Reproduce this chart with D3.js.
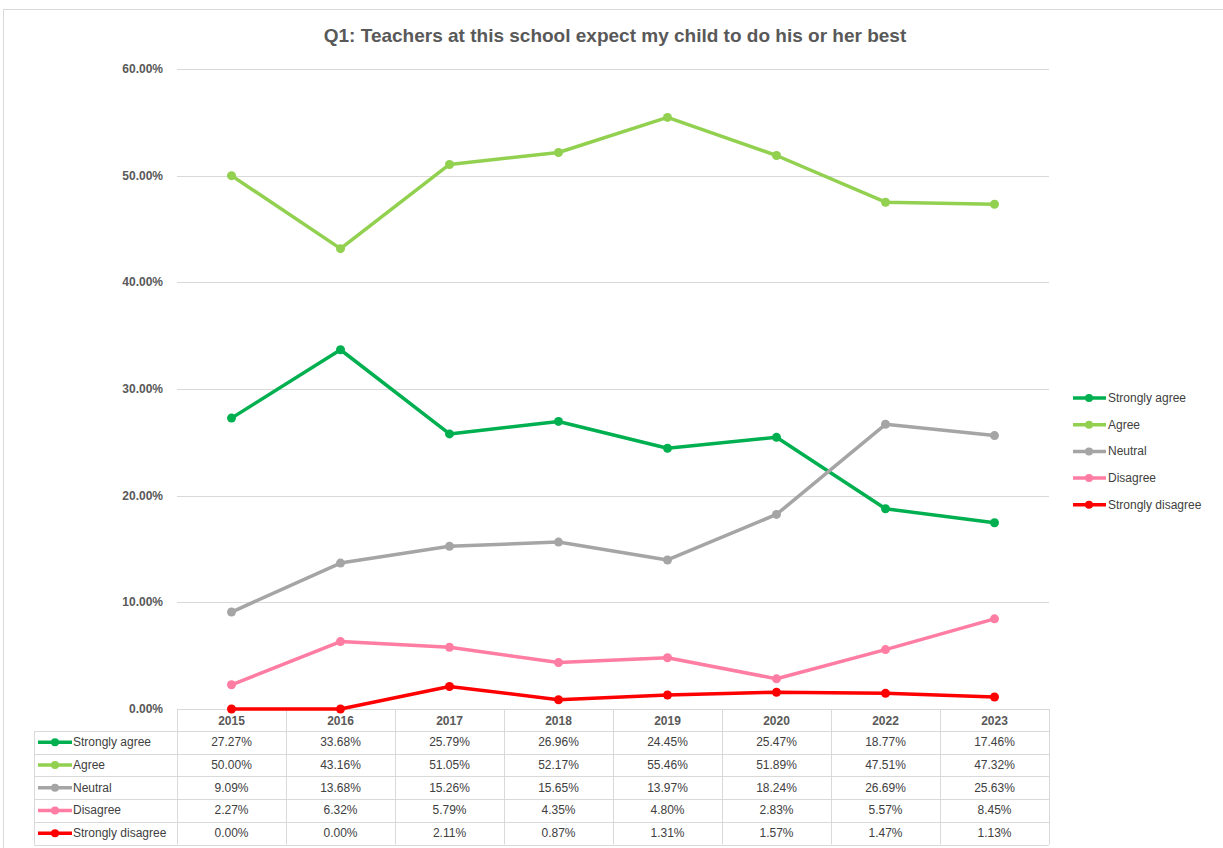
<!DOCTYPE html>
<html>
<head>
<meta charset="utf-8">
<script src="https://cdn.jsdelivr.net/npm/d3@7"></script>
<style>
  body { margin: 0; background: #fff; }
  svg { display: block; font-family: "Liberation Sans", sans-serif; }
</style>
</head>
<body>
<div id="chart"></div>
<script>
var years = ["2015", "2016", "2017", "2018", "2019", "2020", "2022", "2023"];
var seriesNames = ["Strongly agree", "Agree", "Neutral", "Disagree", "Strongly disagree"];
var stronglyAgree = [27.27, 33.68, 25.79, 26.96, 24.45, 25.47, 18.77, 17.46];
var agree = [50.00, 43.16, 51.05, 52.17, 55.46, 51.89, 47.51, 47.32];
var neutral = [9.09, 13.68, 15.26, 15.65, 13.97, 18.24, 26.69, 25.63];
var disagree = [2.27, 6.32, 5.79, 4.35, 4.80, 2.83, 5.57, 8.45];
var stronglyDisagree = [0.00, 0.00, 2.11, 0.87, 1.31, 1.57, 1.47, 1.13];
var yTicks = [0, 10, 20, 30, 40, 50, 60];
var colors = ["#00b050", "#92d050", "#a5a5a5", "#ff7ca3", "#ff0000"];

var allValues = [stronglyAgree, agree, neutral, disagree, stronglyDisagree];
var series = seriesNames.map(function(n, i) {
    return { name: n, values: allValues[i], color: colors[i] };
});

var W = 1223, H = 848;
var margin = { left: 177, right: 174, top: 69, bottom: 139 };
var svg = d3.select("#chart").append("svg").attr("width", W).attr("height", H);

// chart frame
svg.append("rect")
    .attr("x", 3.5).attr("y", 9.5)
    .attr("width", W + 10).attr("height", H + 10)
    .attr("fill", "#fff").attr("stroke", "#d9d9d9");

var x = d3.scaleBand().domain(years).range([margin.left, W - margin.right]);
var y = d3.scaleLinear().domain([0, 60]).range([H - margin.bottom, margin.top]);

// title
svg.append("text")
    .attr("x", 615).attr("y", 42)
    .attr("text-anchor", "middle")
    .attr("fill", "#595959")
    .style("font-size", "19px")
    .style("font-weight", "bold")
    .text("Q1: Teachers at this school expect my child to do his or her best");

// gridlines
svg.append("g").selectAll("line").data(yTicks.slice(1)).enter().append("line")
    .attr("x1", margin.left).attr("x2", W - margin.right)
    .attr("y1", function(d) { return Math.round(y(d)) + 0.5; })
    .attr("y2", function(d) { return Math.round(y(d)) + 0.5; })
    .attr("stroke", "#d9d9d9").attr("stroke-width", 1);

// y axis labels
svg.append("g").selectAll("text").data(yTicks).enter().append("text")
    .attr("x", 163).attr("y", function(d) { return y(d) + 4; })
    .attr("text-anchor", "end")
    .attr("fill", "#595959")
    .style("font-size", "12px")
    .style("font-weight", "bold")
    .text(function(d) { return d.toFixed(2) + "%"; });

// table
var rowH = 22.7;
var headTop = y(0);
var headH = 22;
var labelLeft = 34;
var tableBottom = headTop + headH + rowH * seriesNames.length;
var tg = svg.append("g");
// horizontal lines
var hLines = [headTop, headTop + headH];
seriesNames.forEach(function(d, i) { hLines.push(headTop + headH + rowH * (i + 1)); });
tg.selectAll("line.h").data(hLines).enter().append("line")
    .attr("class", "h")
    .attr("x1", function(d, i) { return i === 0 ? margin.left : labelLeft; })
    .attr("x2", W - margin.right)
    .attr("y1", function(d) { return Math.round(d) + 0.5; })
    .attr("y2", function(d) { return Math.round(d) + 0.5; })
    .attr("stroke", "#d9d9d9");
// vertical lines
var vLines = years.map(function(d) { return x(d); }).concat([W - margin.right]);
tg.selectAll("line.v").data(vLines).enter().append("line")
    .attr("class", "v")
    .attr("x1", function(d) { return Math.round(d) + 0.5; })
    .attr("x2", function(d) { return Math.round(d) + 0.5; })
    .attr("y1", headTop).attr("y2", tableBottom)
    .attr("stroke", "#d9d9d9");
tg.append("line")
    .attr("x1", labelLeft + 0.5).attr("x2", labelLeft + 0.5)
    .attr("y1", headTop + headH).attr("y2", tableBottom)
    .attr("stroke", "#d9d9d9");

// header years
tg.selectAll("text.yr").data(years).enter().append("text")
    .attr("x", function(d) { return x(d) + x.bandwidth() / 2; })
    .attr("y", headTop + 16)
    .attr("text-anchor", "middle")
    .attr("fill", "#595959")
    .style("font-size", "12px")
    .style("font-weight", "bold")
    .text(function(d) { return d; });

// rows
series.forEach(function(s, i) {
    var rowMid = headTop + headH + rowH * i + rowH / 2;
    var row = tg.append("g");
    row.append("line")
        .attr("x1", 38).attr("x2", 72)
        .attr("y1", rowMid).attr("y2", rowMid)
        .attr("stroke", s.color).attr("stroke-width", 3.5);
    row.append("circle")
        .attr("cx", 55).attr("cy", rowMid).attr("r", 4)
        .attr("fill", s.color);
    row.append("text")
        .attr("x", 73).attr("y", rowMid + 4)
        .attr("fill", "#404040")
        .style("font-size", "12px")
        .text(s.name);
    row.selectAll("text.val").data(s.values).enter().append("text")
        .attr("x", function(d, j) { return x(years[j]) + x.bandwidth() / 2; })
        .attr("y", rowMid + 4)
        .attr("text-anchor", "middle")
        .attr("fill", "#404040")
        .style("font-size", "12px")
        .text(function(d) { return d.toFixed(2) + "%"; });
});

// lines
var line = d3.line()
    .x(function(d, i) { return x(years[i]) + x.bandwidth() / 2; })
    .y(function(d) { return y(d); });

series.forEach(function(s) {
    var g = svg.append("g");
    g.append("path")
        .attr("d", line(s.values))
        .attr("fill", "none")
        .attr("stroke", s.color)
        .attr("stroke-width", 3.5)
        .attr("stroke-linejoin", "round")
        .attr("stroke-linecap", "round");
    g.selectAll("circle").data(s.values).enter().append("circle")
        .attr("cx", function(d, i) { return x(years[i]) + x.bandwidth() / 2; })
        .attr("cy", function(d) { return y(d); })
        .attr("r", 4.5)
        .attr("fill", s.color);
});

// legend
var lg = svg.append("g");
series.forEach(function(s, i) {
    var ly = 398 + i * 26.7;
    lg.append("line")
        .attr("x1", 1073).attr("x2", 1106)
        .attr("y1", ly).attr("y2", ly)
        .attr("stroke", s.color).attr("stroke-width", 3.5);
    lg.append("circle")
        .attr("cx", 1089).attr("cy", ly).attr("r", 4)
        .attr("fill", s.color);
    lg.append("text")
        .attr("x", 1108).attr("y", ly + 4)
        .attr("fill", "#404040")
        .style("font-size", "12px")
        .text(s.name);
});
</script>
</body>
</html>
